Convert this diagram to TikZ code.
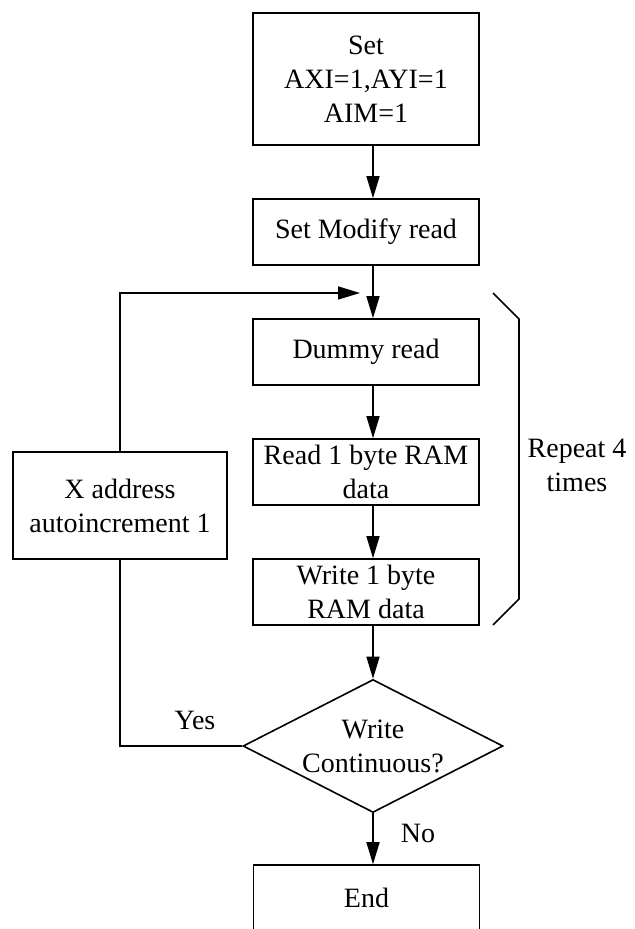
\documentclass[tikz,border=0pt]{standalone}
\usepackage{fontspec}
\setmainfont{Liberation Serif}
\usetikzlibrary{arrows.meta,shapes.geometric}
\tikzset{
	every node/.style={font=\fontsize{14}{17}\selectfont},
	stepbox/.style={draw,line width=0.8pt,minimum width=113pt,minimum height=33pt,inner sep=1pt,align=center},
	choice/.style={draw,line width=0.8pt,shape=diamond,aspect=2,inner sep=0pt,minimum width=130pt,minimum height=66.5pt,align=center},
	flow/.style={line width=0.8pt,-{Triangle[length=11pt,width=6.5pt]}}
}
\begin{document}
\begin{tikzpicture}[x=0.5pt,y=-0.5pt]
	\useasboundingbox (0,0) rectangle (634,929);
	\node[stepbox,minimum height=66pt] (setaxi) at (366,79) {Set\\AXI=1,AYI=1\\AIM=1};
	\node[stepbox] (setmod) at (366,232) {Set Modify read};
	\node[stepbox] (dummy) at (366,352) {Dummy read};
	\node[stepbox] (readram) at (366,472) {Read 1 byte RAM\\data};
	\node[stepbox] (writeram) at (366,592) {Write 1 byte\\RAM data};
	\node[choice] (cont) at (373,746) {Write\\Continuous?};
	\node[stepbox] (theend) at (366.5,898) {End};
	\node[stepbox,minimum width=107pt,minimum height=53.5pt] (xaddr) at (120,505.5) {X address\\autoincrement 1};
	%
	\draw[flow] ([xshift=3.5pt]setaxi.south)--([xshift=3.5pt]setmod.north);
	\draw[flow] ([xshift=3.5pt]setmod.south)--([xshift=3.5pt]dummy.north);
	\draw[flow] ([xshift=3.5pt]dummy.south)--([xshift=3.5pt]readram.north);
	\draw[flow] ([xshift=3.5pt]readram.south)--([xshift=3.5pt]writeram.north);
	\draw[flow] ([xshift=3.5pt]writeram.south)--(cont.north);
	\draw[flow] (cont.south)--(cont.south |- theend.north);
	%
	\coordinate (merge) at (360,293);
	\draw[line width=0.8pt] (cont.west)-|(xaddr.south);
	\draw[flow] (xaddr.north)|-(merge);
	\node (yes) at (195,720) {Yes};
	\node (no) at (418,833) {No};
	%
	\draw[line width=0.8pt] (493,293)--(519,319)--(519,599)--(493,625);
	\node[align=center] (repeat) at (577,465) {Repeat 4\\times};
\end{tikzpicture}
\end{document}
